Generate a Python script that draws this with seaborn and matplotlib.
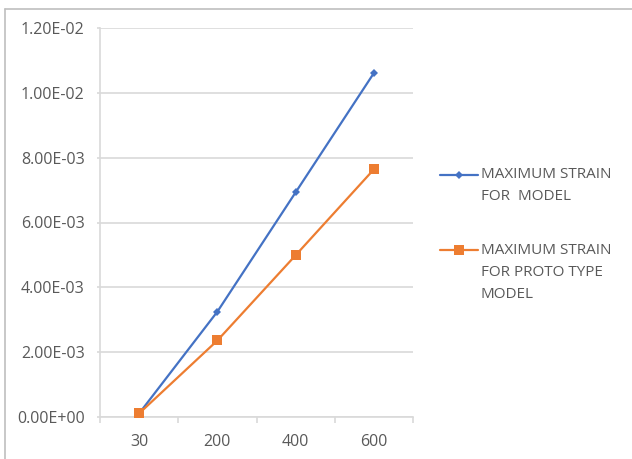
import matplotlib
matplotlib.use("Agg")
import matplotlib.pyplot as plt
import matplotlib.lines as mlines
from matplotlib.ticker import FuncFormatter, FixedLocator
import pandas as pd
import seaborn as sns

# Load steps (category labels on the x axis)
loads = ["30", "200", "400", "600"]
# Maximum strain values for each series
strain_model = [1.1e-4, 3.25e-3, 6.93e-3, 1.061e-2]
strain_prototype = [1.1e-4, 2.36e-3, 4.99e-3, 7.64e-3]
series_names = ["MAXIMUM STRAIN\nFOR  MODEL", "MAXIMUM STRAIN\nFOR PROTO TYPE\nMODEL"]
y_ticks = [0, 2e-3, 4e-3, 6e-3, 8e-3, 1.0e-2, 1.2e-2]

df = pd.DataFrame({
    "load": loads * 2,
    "strain": strain_model + strain_prototype,
    "series": [series_names[0]] * len(loads) + [series_names[1]] * len(loads),
})

sns.set_theme(style="white")
plt.rcParams["font.family"] = ["Open Sans", "DejaVu Sans"]

W, H = 632, 459
text_color = "#595959"
grid_color = "#D9D9D9"
colors = {series_names[0]: "#4472C4", series_names[1]: "#ED7D31"}
markers = {series_names[0]: "D", series_names[1]: "s"}
msizes = {series_names[0]: 4.5, series_names[1]: 6.5}

fig = plt.figure(figsize=(W / 100, H / 100), dpi=100)
ax = fig.add_axes([100 / W, 42 / H, 313 / W, 389 / H])

for name in series_names:
    sub = df[df["series"] == name]
    sns.lineplot(data=sub, x="load", y="strain", color=colors[name], sort=False,
                 marker=markers[name], markersize=msizes[name], markeredgewidth=0,
                 linewidth=1.6, ax=ax, legend=False, zorder=3)

ax.set_xlim(-0.5, len(loads) - 0.5)
ax.set_ylim(0, 1.2e-2)
ax.set_xlabel("")
ax.set_ylabel("")

ax.yaxis.set_major_locator(FixedLocator(y_ticks))
ax.yaxis.set_major_formatter(FuncFormatter(lambda v, p: f"{v:.2E}"))
ax.grid(axis="y", color=grid_color, linewidth=1.2)
ax.grid(axis="x", visible=False)

# tick marks between categories on the x axis
ax.xaxis.set_minor_locator(FixedLocator([i - 0.5 for i in range(len(loads) + 1)]))
ax.tick_params(axis="x", which="major", length=0, labelsize=11.5, labelcolor=text_color, pad=12)
ax.tick_params(axis="x", which="minor", length=4, color=grid_color, width=1.2, bottom=True, direction="out")
ax.tick_params(axis="y", which="major", length=2.5, color=grid_color, width=1.2, left=True,
               labelsize=11.5, labelcolor=text_color, pad=8.5)

for s in ["top", "right"]:
    ax.spines[s].set_visible(False)
for s in ["left", "bottom"]:
    ax.spines[s].set_color(grid_color)
    ax.spines[s].set_linewidth(1.2)

# legend: key line beside the first line of each wrapped label
entry_tops = [175, 250]
line_pitch = 22
for name, top in zip(series_names, entry_tops):
    yk = 1 - top / H
    fig.add_artist(mlines.Line2D([440 / W, 478 / W], [yk, yk], transform=fig.transFigure,
                                 color=colors[name], linewidth=1.6))
    fig.add_artist(mlines.Line2D([459 / W], [yk], transform=fig.transFigure,
                                 color=colors[name], marker=markers[name],
                                 markersize=msizes[name], markeredgewidth=0, linewidth=0))
    for i, line in enumerate(name.split("\n")):
        fig.text(481 / W, 1 - (top + i * line_pitch) / H, line, ha="left", va="center",
                 fontsize=11, color=text_color)

# chart area outline (top and left edges)
fig.add_artist(mlines.Line2D([5 / W, 1], [1 - 9 / H, 1 - 9 / H], transform=fig.transFigure,
                             color="#BFBFBF", linewidth=1.2))
fig.add_artist(mlines.Line2D([5 / W, 5 / W], [0, 1 - 9 / H], transform=fig.transFigure,
                             color="#BFBFBF", linewidth=1.2))

fig.savefig("out.png", dpi=100, facecolor="white")
